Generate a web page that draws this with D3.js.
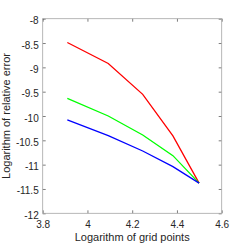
<html>
<head>
<meta charset="utf-8">
<script src="https://d3js.org/d3.v7.min.js"></script>
<style>
  body { margin: 0; background: #fff; }
  text { font-family: "Liberation Sans", Arial, sans-serif; }
</style>
</head>
<body>
<svg id="chart" width="245" height="245"></svg>
<script>
const gridPts = [3.91, 4.093, 4.247, 4.382, 4.499];
const redErr = [-8.49, -8.92, -9.555, -10.41, -11.38];
const greenErr = [-9.636, -10.0, -10.39, -10.815, -11.38];
const blueErr = [-10.08, -10.405, -10.72, -11.04, -11.38];
const xTicks = [3.8, 4, 4.2, 4.4, 4.6];
const yTicks = [-8, -8.5, -9, -9.5, -10, -10.5, -11, -11.5, -12];

const svg = d3.select("#chart");
const margins = { top: 18.7, right: 23.3, bottom: 31.7, left: 42.7 };
const w = 245 - margins.left - margins.right;
const h = 245 - margins.top - margins.bottom;
const g = svg.append("g").attr("transform", `translate(${margins.left},${margins.top})`);

const x = d3.scaleLinear().domain([3.8, 4.6]).range([0, w]);
const y = d3.scaleLinear().domain([-12, -8]).range([h, 0]);
const axisColor = "#262626";
const fmt = d => String(d);

function styleAxis(sel, showText) {
  sel.select(".domain").remove();
  sel.selectAll("line").attr("stroke", axisColor).attr("stroke-width", 0.6);
  sel.selectAll("text").attr("fill", axisColor).style("font-size", "10px")
    .style("display", showText ? null : "none");
}

g.append("g").attr("transform", `translate(0,${h})`)
  .call(d3.axisBottom(x).tickValues(xTicks).tickSize(-3).tickPadding(7.5).tickFormat(fmt))
  .call(s => styleAxis(s, true));
g.append("g")
  .call(d3.axisTop(x).tickValues(xTicks).tickSize(-3))
  .call(s => styleAxis(s, false));
g.append("g")
  .call(d3.axisLeft(y).tickValues(yTicks).tickSize(-3).tickPadding(4).tickFormat(fmt))
  .call(s => styleAxis(s, true))
  .call(s => s.selectAll("text").attr("dy", "0.5em"));
g.append("g").attr("transform", `translate(${w},0)`)
  .call(d3.axisRight(y).tickValues(yTicks).tickSize(-3))
  .call(s => styleAxis(s, false));

g.append("rect").attr("width", w).attr("height", h)
  .attr("fill", "none").attr("stroke", "#a6a6a6").attr("stroke-width", 0.8);

const line = d3.line().x((d, i) => x(gridPts[i])).y(d => y(d));
[[redErr, "#ff0000"], [greenErr, "#00ff00"], [blueErr, "#0000ff"]].forEach(([s, c]) => {
  g.append("path").datum(s).attr("d", line)
    .attr("fill", "none").attr("stroke", c).attr("stroke-width", 1.3);
});

svg.append("text").attr("x", margins.left + w / 2).attr("y", 241)
  .attr("text-anchor", "middle").attr("fill", axisColor)
  .style("font-size", "11px").text("Logarithm of grid points");
svg.append("text").attr("transform", `translate(10,${margins.top + h / 2}) rotate(-90)`)
  .attr("text-anchor", "middle").attr("fill", axisColor)
  .style("font-size", "11px").text("Logarithm of relative error");
</script>
</body>
</html>
